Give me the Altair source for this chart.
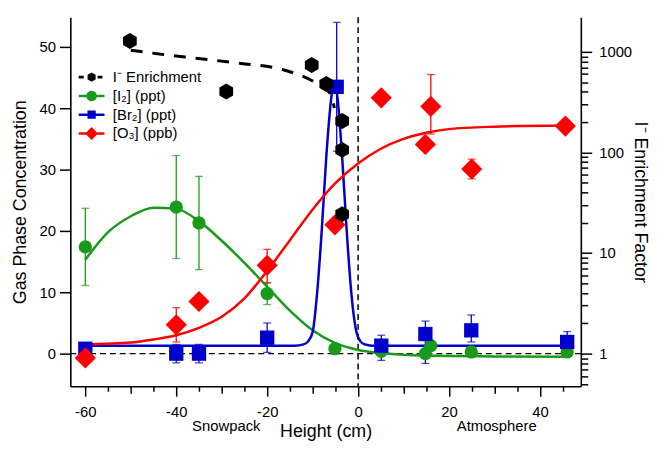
import altair as alt
import pandas as pd

FONT = "Liberation Sans"

# ---------------- data ----------------
series_names = ["I⁻ Enrichment", "[I₂] (ppt)", "[Br₂] (ppt)", "[O₃] (ppb)"]
series_colors = ["#000000", "#1a9a1a", "#0000cc", "#ff0000"]

enr_x = [-50.2, -29.0, -10.2, -7.0, -3.5, -3.5, -3.5]
enr_y = [1280, 403, 738, 478, 205, 106, 24.3]
enr_fit_x = [-50.0, -44.6, -35.2, -25.8, -16.3, -9.8, -6.2, -5.2]
enr_fit_y = [1037, 960, 857, 766, 659, 506, 388, 276]

i2_x = [-60, -40, -35, -20, -5.1, 5.1, 14.8, 16.0, 24.9, 46.0]
i2_y = [17.4, 23.9, 21.3, 9.8, 0.8, 0.37, 0.0, 1.3, 0.27, 0.27]
i2_err_x = [-60, -40, -35, -20]
i2_err_lo = [11.1, 15.5, 13.7, 8.0]
i2_err_hi = [23.7, 32.3, 28.9, 11.6]
i2_fit_x = [-60, -55, -50, -45, -40, -35, -30, -25, -20, -15, -10, -5, 0, 5, 10, 20, 30, 46]
i2_fit_y = [15.3, 19.8, 22.4, 23.8, 23.6, 21.6, 18.4, 14.8, 10.9, 7.0, 3.8, 1.7, 0.6, 0.1, -0.2, -0.4, -0.45, -0.5]

br2_x = [-60, -40, -35, -20, -4.7, 5.1, 14.8, 24.9, 46.0]
br2_y = [0.8, 0.0, 0.0, 2.6, 43.5, 1.3, 3.2, 3.8, 1.9]
br2_err_lo = [0.8, -1.5, -1.5, 0.2, 33.0, -1.1, -1.6, 1.9, 0.2]
br2_err_hi = [1.8, 1.5, 1.5, 5.0, 54.0, 3.0, 5.3, 6.3, 3.6]
br2_fit_x = [-60, -14, -12, -11, -10, -9, -8, -7, -6, -5.3, -4.5, -3.5, -2.5, -1.5, -0.5, 0.5, 1.5, 3, 46]
br2_fit_y = [1.3, 1.3, 1.5, 2.0, 3.5, 10, 20, 32, 41, 44.3, 41.5, 32, 20, 10, 4, 2, 1.5, 1.3, 1.3]

o3_x = [-60, -40, -35, -20, -5.1, 5.1, 14.8, 16.0, 25.0, 45.6]
o3_y = [-0.7, 4.7, 8.5, 14.4, 21.0, 41.7, 34.1, 40.3, 30.1, 37.1]
o3_err_x = [-40, -35, -20, 16.0, 25.0]
o3_err_lo = [1.9, 7.5, 11.5, 35.8, 28.5]
o3_err_hi = [7.5, 9.5, 17.0, 45.5, 31.7]
o3_fit_x = [-60, -50, -45, -40, -35, -30, -25, -20, -15, -10, -5, 0, 5, 10, 15, 20, 30, 46]
o3_fit_y = [1.5, 1.8, 2.3, 3.0, 4.2, 6.0, 9.0, 13.5, 18.5, 23.5, 27.8, 31.0, 33.4, 35.0, 36.0, 36.6, 37.0, 37.2]

ann_text = ["Snowpack", "Atmosphere"]
ann_x = [-29.0, 30.5]
ann_y = [-11.8, -11.8]

x_ticks = list(range(-60, 50, 5))
left_ticks = [0, 10, 20, 30, 40, 50]
right_ticks = [0.5, 0.6, 0.7, 0.8, 0.9, 1, 2, 3, 4, 5, 6, 7, 8, 9,
               10, 20, 30, 40, 50, 60, 70, 80, 90,
               100, 200, 300, 400, 500, 600, 700, 800, 900, 1000]

# ---------------- shapes ----------------
HEX = "M0,-1L0.866,-0.5L0.866,0.5L0,1L-0.866,0.5L-0.866,-0.5Z"
legend_shapes = [
    "M-1.86,-0.21H-1.14V0.21H-1.86Z M0.86,-0.21H1.57V0.21H0.86Z "
    "M0,-0.67L0.58,-0.335L0.58,0.335L0,0.67L-0.58,0.335L-0.58,-0.335Z",
    "M-1.86,-0.18H1.86V0.18H-1.86Z M-0.76,0A0.76,0.76 0 1,1 0.76,0A0.76,0.76 0 1,1 -0.76,0Z",
    "M-1.86,-0.18H1.86V0.18H-1.86Z M-0.6,-0.6H0.6V0.6H-0.6Z",
    "M-1.86,-0.18H1.86V0.18H-1.86Z M0,-0.93L0.93,0L0,0.93L-0.93,0Z",
]

# ---------------- scales / axes ----------------
x_axis = alt.Axis(
    values=x_ticks,
    labelExpr="datum.value % 20 == 0 ? '' + datum.value : ''",
    tickSize={"condition": [{"test": "datum.value % 20 == 0", "value": 10},
                            {"test": "datum.value % 10 == 0", "value": 7}],
              "value": 5},
    labelPadding=9, title="Height (cm)", titlePadding=3, grid=False,
)
X = alt.X("x:Q", scale=alt.Scale(domain=[-63.3, 49.0], nice=False, zero=False), axis=x_axis)

left_scale = alt.Scale(domain=[-5.32, 54.84], nice=False, zero=False)
left_axis = alt.Axis(orient="left", values=left_ticks, tickSize=11, labelPadding=4,
                     title="Gas Phase Concentration", titlePadding=10, grid=False)
YL = alt.Y("y:Q", scale=left_scale, axis=left_axis)
YL2 = alt.Y2("y2:Q")

right_scale = alt.Scale(type="log", domain=[0.474, 2203], nice=False)
right_axis = alt.Axis(
    orient="right", values=right_ticks,
    labelExpr="indexof([1,10,100,1000], datum.value) >= 0 ? '' + datum.value : ''",
    tickSize={"condition": {"test": "indexof([1,10,100,1000], datum.value) >= 0", "value": 11},
              "value": 7},
    labelPadding=7, title="I⁻ Enrichment Factor", titlePadding=-1, grid=False,
)
YR = alt.Y("y:Q", scale=right_scale, axis=right_axis)

green, blue, red = series_colors[1], series_colors[2], series_colors[3]


def errbars(xs, lo, hi, color):
    d = pd.DataFrame({"x": xs, "y": lo, "y2": hi})
    base = alt.Chart(d)
    rule = base.mark_rule(color=color, strokeWidth=1.3).encode(x=X, y=YL, y2=YL2)
    cap_lo = base.mark_tick(color=color, orient="horizontal", size=8, thickness=1.3).encode(x=X, y=YL)
    cap_hi = base.mark_tick(color=color, orient="horizontal", size=8, thickness=1.3).encode(
        x=X, y=alt.Y("y2:Q", scale=left_scale, axis=left_axis))
    return [rule, cap_lo, cap_hi]


zero_rule = alt.Chart(pd.DataFrame({"y": [0]})).mark_rule(
    color="black", strokeDash=[6, 4], strokeWidth=1.5).encode(y=YL)
zero_vrule = alt.Chart(pd.DataFrame({"x": [0]})).mark_rule(
    color="black", strokeDash=[6, 4], strokeWidth=1.5).encode(x=X)

i2_line = alt.Chart(pd.DataFrame({"x": i2_fit_x, "y": i2_fit_y})).mark_line(
    color=green, strokeWidth=2.5, interpolate="monotone").encode(x=X, y=YL)
br2_line = alt.Chart(pd.DataFrame({"x": br2_fit_x, "y": br2_fit_y})).mark_line(
    color=blue, strokeWidth=2.5, interpolate="monotone").encode(x=X, y=YL)
o3_line = alt.Chart(pd.DataFrame({"x": o3_fit_x, "y": o3_fit_y})).mark_line(
    color=red, strokeWidth=2.5, interpolate="monotone").encode(x=X, y=YL)

i2_pts = alt.Chart(pd.DataFrame({"x": i2_x, "y": i2_y})).mark_point(
    shape="circle", filled=True, size=180, opacity=1, color=green).encode(x=X, y=YL)
br2_pts = alt.Chart(pd.DataFrame({"x": br2_x, "y": br2_y})).mark_point(
    shape="square", filled=True, size=210, opacity=1, color=blue).encode(x=X, y=YL)
o3_pts = alt.Chart(pd.DataFrame({"x": o3_x, "y": o3_y})).mark_point(
    shape="diamond", filled=True, size=460, opacity=1, color=red).encode(x=X, y=YL)

ann = alt.Chart(pd.DataFrame({"x": ann_x, "y": ann_y, "t": ann_text})).mark_text(
    font=FONT, fontSize=15, color="black", baseline="middle").encode(x=X, y=YL, text="t:N")

leg = alt.Legend(orient="none", legendX=14, legendY=53, title=None, padding=0,
                 labelFont=FONT, labelFontSize=15, labelColor="black",
                 symbolSize=196, symbolStrokeWidth=0, labelOffset=14, rowPadding=3)
legend_layer = alt.Chart(pd.DataFrame({"series": series_names})).transform_filter(
    "datum.series == 'none'").mark_point(filled=True, size=196, opacity=1).encode(
    x=alt.value(0), y=alt.value(0),
    color=alt.Color("series:N", scale=alt.Scale(domain=series_names, range=series_colors), legend=leg),
    shape=alt.Shape("series:N", scale=alt.Scale(domain=series_names, range=legend_shapes), legend=leg),
)

left = alt.layer(
    zero_rule, zero_vrule, i2_line, br2_line, o3_line,
    *errbars(i2_err_x, i2_err_lo, i2_err_hi, green),
    *errbars(br2_x, br2_err_lo, br2_err_hi, blue),
    *errbars(o3_err_x, o3_err_lo, o3_err_hi, red),
    i2_pts, br2_pts, o3_pts, ann, legend_layer,
)

enr_line = alt.Chart(pd.DataFrame({"x": enr_fit_x, "y": enr_fit_y})).mark_line(
    color="black", strokeWidth=3, strokeDash=[12, 10], interpolate="monotone").encode(x=X, y=YR)
enr_pts = alt.Chart(pd.DataFrame({"x": enr_x, "y": enr_y})).mark_point(
    shape=HEX, filled=True, size=256, opacity=1, color="black").encode(x=X, y=YR)
right = alt.layer(enr_line, enr_pts)

chart = alt.layer(left, right).resolve_scale(y="independent").properties(
    width=516, height=373,
    autosize=alt.AutoSizeParams(type="none"),
    padding={"left": 63, "top": 7, "right": 78, "bottom": 54},
).configure_view(stroke=None).configure_axis(
    labelFont=FONT, titleFont=FONT, labelFontSize=15, titleFontSize=18,
    titleFontWeight="normal", labelColor="black", titleColor="black",
    domainColor="black", domainWidth=1.6, tickColor="black", tickWidth=1.5,
)

chart.save("out.html", embed_options={"renderer": "svg", "actions": False})
